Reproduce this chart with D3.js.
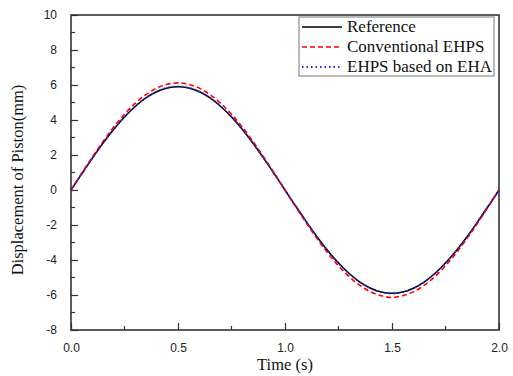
<!DOCTYPE html>
<html>
<head>
<meta charset="utf-8">
<script src="https://cdn.jsdelivr.net/npm/d3@7"></script>
<style>
  body { margin: 0; background: #fff; }
  .tick text { font-family: "Liberation Sans", Arial, sans-serif; font-size: 12px; fill: #222; }
  .title { font-family: "Liberation Serif", "Times New Roman", serif; font-size: 16.5px; fill: #111; }
  .legend text { font-family: "Liberation Serif", "Times New Roman", serif; font-size: 17px; fill: #111; }
</style>
</head>
<body>
<div id="chart"></div>
<script>
// time samples (s)
var time = [0, 0.05, 0.1, 0.15, 0.2, 0.25, 0.3, 0.35, 0.4, 0.45, 0.5,
            0.55, 0.6, 0.65, 0.7, 0.75, 0.8, 0.85, 0.9, 0.95, 1.0,
            1.05, 1.1, 1.15, 1.2, 1.25, 1.3, 1.35, 1.4, 1.45, 1.5,
            1.55, 1.6, 1.65, 1.7, 1.75, 1.8, 1.85, 1.9, 1.95, 2.0];
var reference = [0, 0.92, 1.82, 2.68, 3.47, 4.17, 4.77, 5.26, 5.61, 5.83, 5.90,
                 5.83, 5.61, 5.26, 4.77, 4.17, 3.47, 2.68, 1.82, 0.92, 0,
                 -0.92, -1.82, -2.68, -3.47, -4.17, -4.77, -5.26, -5.61, -5.83, -5.90,
                 -5.83, -5.61, -5.26, -4.77, -4.17, -3.47, -2.68, -1.82, -0.92, 0];
var conventional = [0, 0.96, 1.89, 2.78, 3.60, 4.33, 4.95, 5.45, 5.82, 6.04, 6.12,
                    6.04, 5.82, 5.45, 4.95, 4.33, 3.60, 2.78, 1.89, 0.96, 0,
                    -0.96, -1.89, -2.78, -3.60, -4.33, -4.95, -5.45, -5.82, -6.04, -6.14,
                    -6.04, -5.82, -5.45, -4.95, -4.33, -3.60, -2.78, -1.89, -0.96, 0];
var ehaBased = [0, 0.93, 1.83, 2.69, 3.48, 4.19, 4.79, 5.27, 5.63, 5.85, 5.92,
                5.85, 5.63, 5.27, 4.79, 4.19, 3.48, 2.69, 1.83, 0.93, 0,
                -0.93, -1.83, -2.69, -3.48, -4.19, -4.79, -5.27, -5.63, -5.85, -5.92,
                -5.85, -5.63, -5.27, -4.79, -4.19, -3.48, -2.69, -1.83, -0.93, 0];
var seriesNames = ["Reference", "Conventional EHPS", "EHPS based on EHA"];
var xTicks = [0, 0.5, 1.0, 1.5, 2.0];
var yTicks = [-8, -6, -4, -2, 0, 2, 4, 6, 8, 10];

function init(){
    var w = 513, h = 376;
    var left = 71, right = 499, top = 15, bottom = 330;

    var xScale = d3.scaleLinear().domain([0, 2]).range([left, right]);
    var yScale = d3.scaleLinear().domain([-8, 10]).range([bottom, top]);

    var svg = d3.select("#chart").append("svg")
        .attr("width", w).attr("height", h);

    // minor ticks
    var xMinor = d3.range(0.25, 2, 0.5);
    var yMinor = d3.range(-7, 10, 2);
    svg.append("g").selectAll("line").data(xMinor).enter().append("line")
        .attr("x1", function(d){ return xScale(d); }).attr("x2", function(d){ return xScale(d); })
        .attr("y1", bottom).attr("y2", bottom - 4)
        .attr("stroke", "#333").attr("stroke-width", 1.2);
    svg.append("g").selectAll("line").data(yMinor).enter().append("line")
        .attr("y1", function(d){ return yScale(d); }).attr("y2", function(d){ return yScale(d); })
        .attr("x1", left).attr("x2", left + 4)
        .attr("stroke", "#333").attr("stroke-width", 1.2);

    // axes with inward ticks
    var xAxis = d3.axisBottom(xScale).tickValues(xTicks)
        .tickFormat(d3.format(".1f")).tickSizeInner(-7).tickSizeOuter(0).tickPadding(13);
    var yAxis = d3.axisLeft(yScale).tickValues(yTicks)
        .tickFormat(function(d){ return d; }).tickSizeInner(-7).tickSizeOuter(0).tickPadding(14);

    var gx = svg.append("g").attr("transform", "translate(0," + bottom + ")").call(xAxis);
    var gy = svg.append("g").attr("transform", "translate(" + left + ",0)").call(yAxis);
    [gx, gy].forEach(function(g){
        g.select(".domain").remove();
        g.selectAll(".tick line").attr("stroke", "#333").attr("stroke-width", 1.2);
    });

    // lines
    var lineGen = function(vals){
        return d3.line()
            .x(function(d, i){ return xScale(time[i]); })
            .y(function(d){ return yScale(d); })
            .curve(d3.curveMonotoneX)(vals);
    };
    var styles = [
        {data: reference, color: "#000", dash: null, width: 1.6},
        {data: conventional, color: "#ff0000", dash: "5,3", width: 1.6},
        {data: ehaBased, color: "#2b2bff", dash: "1.5,3", width: 1.8}
    ];
    styles.forEach(function(s){
        svg.append("path")
            .attr("d", lineGen(s.data))
            .attr("fill", "none")
            .attr("stroke", s.color)
            .attr("stroke-width", s.width)
            .attr("stroke-dasharray", s.dash);
    });

    // frame
    svg.append("rect")
        .attr("x", left).attr("y", top)
        .attr("width", right - left).attr("height", bottom - top)
        .attr("fill", "none").attr("stroke", "#333").attr("stroke-width", 1.6);

    // legend
    var lg = svg.append("g").attr("class", "legend");
    lg.append("rect")
        .attr("x", 299).attr("y", 17).attr("width", 195).attr("height", 59)
        .attr("fill", "#fff").attr("stroke", "#777").attr("stroke-width", 1);
    styles.forEach(function(s, i){
        var yy = 27 + i * 20;
        lg.append("line")
            .attr("x1", 302).attr("x2", 342).attr("y1", yy).attr("y2", yy)
            .attr("stroke", s.color).attr("stroke-width", s.width)
            .attr("stroke-dasharray", s.dash);
        lg.append("text").attr("x", 347).attr("y", yy + 5).text(seriesNames[i]);
    });

    // titles
    svg.append("text").attr("class", "title")
        .attr("x", (left + right) / 2).attr("y", 370)
        .attr("text-anchor", "middle").text("Time (s)");
    svg.append("text").attr("class", "title")
        .attr("transform", "translate(23," + 180 + ") rotate(-90)")
        .attr("text-anchor", "middle").text("Displacement of Piston(mm)");
}
window.onload = init;
</script>
</body>
</html>
